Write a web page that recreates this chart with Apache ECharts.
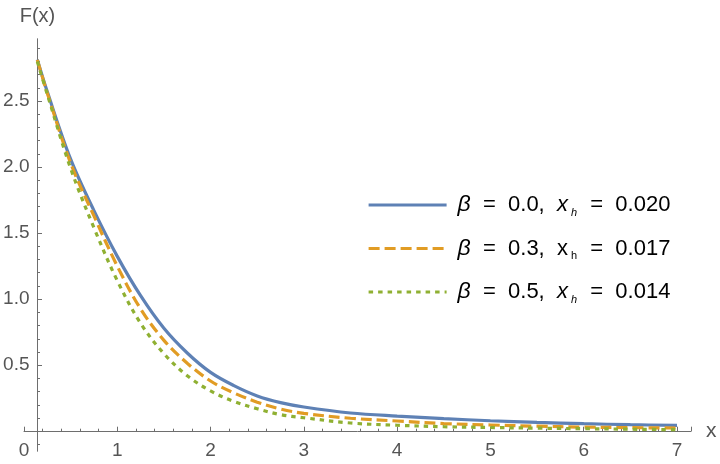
<!DOCTYPE html>
<html>
<head>
<meta charset="utf-8">
<script src="https://cdn.jsdelivr.net/npm/echarts@6/dist/echarts.min.js"></script>
<style>html,body{margin:0;padding:0;background:#fff;}#c{width:720px;height:464px;}</style>
</head>
<body>
<div id="c"></div>
<script>
// ---- data ----
const xValues = [0.143, 0.25, 0.5, 0.75, 1.0, 1.25, 1.5, 1.75, 2.0, 2.25, 2.5, 2.75, 3.0, 3.5, 4.0, 4.5, 5.0, 5.5, 6.0, 6.5, 7.0];
const fBeta00 = [2.814, 2.57, 2.06, 1.67, 1.324, 1.026, 0.779, 0.592, 0.445, 0.345, 0.267, 0.216, 0.183, 0.138, 0.114, 0.095, 0.079, 0.067, 0.057, 0.049, 0.044];
const fBeta03 = [2.812, 2.56, 2.03, 1.63, 1.25, 0.926, 0.688, 0.515, 0.38, 0.29, 0.22, 0.168, 0.135, 0.098, 0.077, 0.058, 0.047, 0.038, 0.031, 0.027, 0.024];
const fBeta05 = [2.80, 2.55, 1.99, 1.54, 1.14, 0.817, 0.587, 0.42, 0.305, 0.225, 0.17, 0.125, 0.102, 0.062, 0.045, 0.034, 0.028, 0.023, 0.019, 0.015, 0.011];
const betaLabels = ['0.0', '0.3', '0.5'];
const xhLabels = ['0.020', '0.017', '0.014'];
const xhItalic = [true, false, true];
const yMajorTicks = [0.5, 1.0, 1.5, 2.0, 2.5];
const yMinorTicks = [-0.1, 0.1, 0.2, 0.3, 0.4, 0.6, 0.7, 0.8, 0.9, 1.1, 1.2, 1.3, 1.4, 1.6, 1.7, 1.8, 1.9, 2.1, 2.2, 2.3, 2.4, 2.6, 2.7, 2.8, 2.9];
const seriesNames = ['b00', 'b03', 'b05'];
const colors = ['#5E81B5', '#E19C24', '#8FB032'];

const FONT = 'Liberation Sans';
const AX = '#6e6e6e';
const LBL = '#555555';

function pairs(ys) { return xValues.map((x, i) => [x, ys[i]]); }

const chart = echarts.init(document.getElementById('c'), null, {renderer: 'canvas'});

const yCommon = {
  type: 'value', min: -0.15, max: 2.97, position: 'left', offset: -13.5,
  splitLine: {show: false},
  axisLine: {show: true, onZero: false, lineStyle: {color: AX, width: 1}},
};

const option = {
  backgroundColor: '#fff',
  animation: false,
  color: colors,
  grid: {left: 24, right: 29, top: 39, bottom: 13, containLabel: false, outerBoundsMode: 'none'},
  xAxis: {
    type: 'value', min: 0, max: 7.15, interval: 1,
    name: 'x', nameLocation: 'end', nameGap: 15,
    nameTextStyle: {color: LBL, fontSize: 21, fontFamily: FONT, verticalAlign: 'middle', align: 'left'},
    axisLine: {show: true, onZero: true, lineStyle: {color: AX, width: 1}},
    axisTick: {show: true, inside: true, length: 4.5, lineStyle: {color: AX}},
    minorTick: {show: true, splitNumber: 5, length: 2.5, lineStyle: {color: AX}},
    axisLabel: {color: LBL, fontSize: 19, fontFamily: FONT, margin: -10, showMaxLabel: false},
    splitLine: {show: false}, minorSplitLine: {show: false}
  },
  yAxis: [
    Object.assign({}, yCommon, {
      name: 'F(x)', nameLocation: 'end', nameGap: 13,
      nameTextStyle: {color: LBL, fontSize: 20, fontFamily: FONT, align: 'center'},
      axisTick: {show: true, inside: true, length: 4.5, customValues: yMajorTicks, lineStyle: {color: AX}},
      axisLabel: {show: true, customValues: yMajorTicks, color: LBL, fontSize: 19, fontFamily: FONT, margin: 8,
        formatter: v => v.toFixed(1)}
    }),
    Object.assign({}, yCommon, {
      axisTick: {show: true, inside: true, length: 2.5, customValues: yMinorTicks, lineStyle: {color: AX}},
      axisLabel: {show: false}
    })
  ],
  legend: {
    orient: 'vertical', left: 362, top: 187,
    itemWidth: 78, itemHeight: 14, itemGap: 17.5,
    itemStyle: {opacity: 0},
    lineStyle: {width: 3.2},
    data: seriesNames,
    textStyle: {
      color: '#000', fontFamily: FONT, fontSize: 22, lineHeight: 26, padding: [0, 0, 0, 6],
      rich: {
        b: {fontStyle: 'italic', fontSize: 23, fontFamily: FONT, color: '#000', lineHeight: 26},
        t: {fontSize: 22, fontFamily: FONT, color: '#000', lineHeight: 26},
        xi: {fontStyle: 'italic', fontSize: 22, fontFamily: FONT, color: '#000', lineHeight: 26},
        xn: {fontSize: 22, fontFamily: FONT, color: '#000', lineHeight: 26},
        hi: {fontStyle: 'italic', fontSize: 11, fontFamily: FONT, color: '#000', verticalAlign: 'bottom', lineHeight: 20, padding: [0, 1, 0, 3]},
        hn: {fontSize: 11, fontFamily: FONT, color: '#000', verticalAlign: 'bottom', lineHeight: 20, padding: [0, 1, 0, 3]}
      }
    },
    formatter: function (name) {
      const i = seriesNames.indexOf(name);
      const xs = xhItalic[i] ? 'xi' : 'xn';
      const hs = xhItalic[i] ? 'hi' : 'hn';
      return '{b|β}{t|  =  ' + betaLabels[i] + ',  }{' + xs + '|x}{' + hs + '|h}{t|  =  ' + xhLabels[i] + '}';
    }
  },
  series: [
    {name: seriesNames[0], type: 'line', data: pairs(fBeta00), showSymbol: false, symbol: 'none', smooth: 0.35,
      lineStyle: {color: colors[0], width: 3.2, type: 'solid'}, itemStyle: {color: colors[0]}},
    {name: seriesNames[1], type: 'line', data: pairs(fBeta03), showSymbol: false, symbol: 'none', smooth: 0.35,
      lineStyle: {color: colors[1], width: 3.2, type: [11, 5]}, itemStyle: {color: colors[1]}},
    {name: seriesNames[2], type: 'line', data: pairs(fBeta05), showSymbol: false, symbol: 'none', smooth: 0.35,
      lineStyle: {color: colors[2], width: 3.2, type: [4.5, 5]}, itemStyle: {color: colors[2]}}
  ]
};
chart.setOption(option);
</script>
</body>
</html>
